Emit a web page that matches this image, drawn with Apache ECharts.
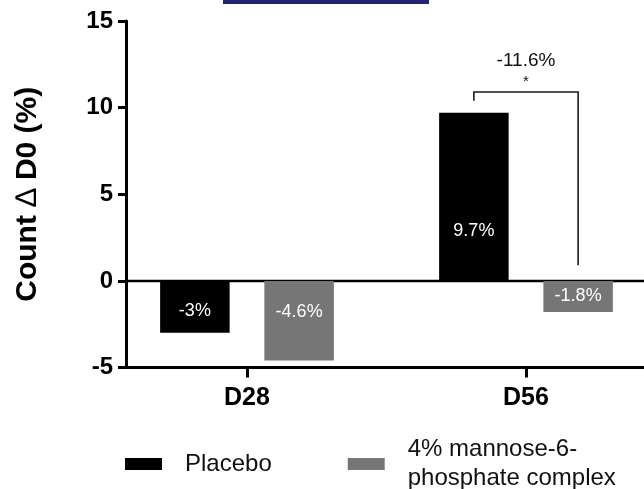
<!DOCTYPE html>
<html><head><meta charset="utf-8">
<script src="https://cdn.jsdelivr.net/npm/echarts@6/dist/echarts.min.js"></script>
<style>html,body{margin:0;padding:0;background:#fff}#c{width:644px;height:489px}</style>
</head><body><div id="c"></div>
<script>
// ---- data ----
const categories = ['D28', 'D56'];
const placebo = [-3, 9.7];
const m6p = [-4.6, -1.8];
const placeboLabels = ['-3%', '9.7%'];
const m6pLabels = ['-4.6%', '-1.8%'];
const seriesNames = ['Placebo', '4% mannose-6-\nphosphate complex'];
const yMin = -5, yMax = 15, yStep = 5;
const yNameParts = ['Count ', '\u2206', ' D0 (%)'];
const diffLabel = '-11.6%';
const sigLabel = '*';
// bracket: [category index, left end, top, right end]
const bracket = [1, 10.4, 10.9, 0.9];

// ---- styles ----
const FONT = '"Liberation Sans", Arial, Helvetica, sans-serif';
const BAR_W = 69.5;
const BAR_GAP = 0.5;
const placeboLabelOffsets = [[0, 4], [0, 34]];
const m6pLabelOffsets = [[0, -9], [0, 0]];
const BLACK = '#000000';
const GREY = '#767676';

function barData(vals, labels, offs) {
  return vals.map((v, i) => ({
    value: v,
    label: { formatter: labels[i], offset: offs[i] }
  }));
}

const chart = echarts.init(document.getElementById('c'), null, { renderer: 'canvas' });
chart.setOption({
  animation: false,
  backgroundColor: '#fff',
  textStyle: { fontFamily: FONT },
  graphic: [{
    type: 'rect', left: 223, top: 0, shape: { width: 206, height: 4 },
    style: { fill: '#24246e' }, silent: true
  }],
  grid: [
    { left: 107.5, width: 558, top: 21, height: 346.5, outerBoundsMode: 'none', containLabel: false },
    { left: 126, width: 518, top: 21, height: 346.5, outerBoundsMode: 'none', containLabel: false }
  ],
  xAxis: [
    {
      type: 'category', gridIndex: 0, data: categories,
      axisLine: { show: false, onZero: false },
      axisTick: { show: true, alignWithLabel: true, length: 10, lineStyle: { color: BLACK, width: 3 } },
      axisLabel: { color: BLACK, fontWeight: 'bold', fontSize: 25, margin: 18, fontFamily: FONT },
      splitLine: { show: false }
    },
    {
      type: 'value', gridIndex: 1, min: 0, max: 1,
      axisLine: { show: true, onZero: false, lineStyle: { color: BLACK, width: 3 } },
      axisTick: { show: false }, axisLabel: { show: false }, splitLine: { show: false }
    }
  ],
  yAxis: [
    { type: 'value', gridIndex: 0, min: yMin, max: yMax, interval: yStep, show: false },
    {
      type: 'value', gridIndex: 1, min: yMin, max: yMax, interval: yStep,
      name: '{b|' + yNameParts[0] + '}{t|' + yNameParts[1] + '}{b|' + yNameParts[2] + '}',
      nameLocation: 'middle', nameGap: 83,
      nameTextStyle: {
        color: BLACK, fontWeight: 'bold', fontSize: 30, fontFamily: FONT,
        rich: {
          b: { color: BLACK, fontWeight: 'bold', fontSize: 30, fontFamily: FONT },
          t: { color: BLACK, fontWeight: 'normal', fontSize: 30, fontFamily: FONT }
        }
      },
      axisLine: { show: true, lineStyle: { color: BLACK, width: 3 } },
      axisTick: { show: true, length: 8, lineStyle: { color: BLACK, width: 3 } },
      axisLabel: { color: BLACK, fontWeight: 'bold', fontSize: 24, margin: 13, fontFamily: FONT },
      splitLine: { show: false }
    }
  ],
  legend: {
    left: 125, top: 435, padding: 0,
    itemWidth: 37, itemHeight: 12, itemGap: 76,
    icon: 'rect',
    textStyle: { fontSize: 24, lineHeight: 29, color: '#111', padding: [0, 0, 0, 18], fontFamily: FONT },
    data: seriesNames
  },
  series: [
    {
      name: seriesNames[0], type: 'bar', xAxisIndex: 0, yAxisIndex: 0,
      barWidth: BAR_W, barGap: (BAR_GAP * 100) + '%',
      itemStyle: { color: BLACK },
      label: { show: true, position: 'inside', color: '#fff', fontSize: 18, fontFamily: FONT },
      data: barData(placebo, placeboLabels, placeboLabelOffsets)
    },
    {
      name: seriesNames[1], type: 'bar', xAxisIndex: 0, yAxisIndex: 0,
      barWidth: BAR_W, barGap: (BAR_GAP * 100) + '%',
      itemStyle: { color: GREY },
      label: { show: true, position: 'inside', color: '#fff', fontSize: 18, fontFamily: FONT },
      data: barData(m6p, m6pLabels, m6pLabelOffsets)
    },
    {
      type: 'line', xAxisIndex: 1, yAxisIndex: 1, silent: true,
      symbol: 'none', lineStyle: { color: BLACK, width: 2.5 },
      data: [[0, 0], [1, 0]], z: 1
    },
    {
      type: 'custom', xAxisIndex: 0, yAxisIndex: 0, silent: true, z: 5,
      data: [bracket],
      renderItem: function (params, api) {
        const c = api.value(0);
        const center = api.coord([c, 0])[0];
        const off = (BAR_W + BAR_W * BAR_GAP) / 2;
        const xl = center - off, xr = center + off;
        const yL = api.coord([c, api.value(1)])[1];
        const yT = api.coord([c, api.value(2)])[1];
        const yR = api.coord([c, api.value(3)])[1];
        return {
          type: 'group',
          children: [
            { type: 'polyline', shape: { points: [[xl, yL], [xl, yT], [xr, yT], [xr, yR]] },
              style: { stroke: '#1a1a1a', lineWidth: 1.6, fill: null } },
            { type: 'text', style: { text: diffLabel, x: center, y: yT - 31, align: 'center', verticalAlign: 'middle',
              font: '19px ' + FONT, fill: '#111' } },
            { type: 'text', style: { text: sigLabel, x: center, y: yT - 10, align: 'center', verticalAlign: 'middle',
              font: '15px ' + FONT, fill: '#111' } }
          ]
        };
      }
    }
  ]
});
</script></body></html>
